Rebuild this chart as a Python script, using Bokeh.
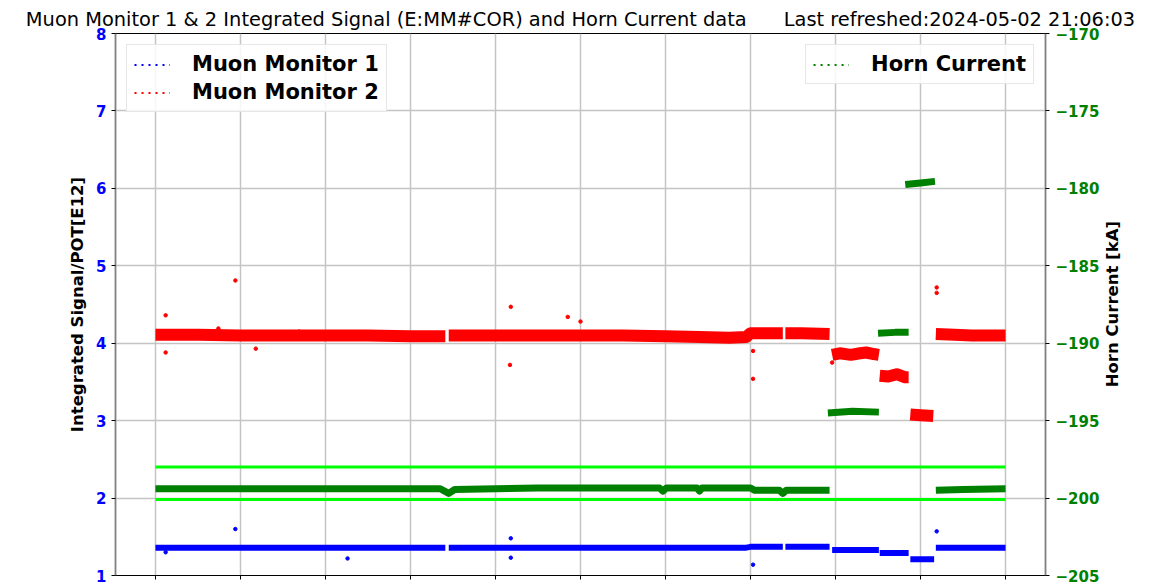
import math
from bokeh.plotting import figure
from bokeh.models import (Range1d, LinearAxis, FixedTicker, CustomJSTickFormatter,
                          Legend, LegendItem)
from bokeh.embed import file_html
from bokeh.resources import INLINE

nan = float("nan")

# x: time in days from start of window (x labels are not visible in the reference)
x_ticks = [0, 1, 2, 3, 4, 5, 6, 7, 8, 9, 10]
left_ticks = [1, 2, 3, 4, 5, 6, 7, 8]
right_ticks = [-205, -200, -195, -190, -185, -180, -175, -170]

# Muon Monitor 1 (Integrated Signal / POT [E12])
mm1_x = [0.0, 0.5, 1.0, 1.5, 2.0, 2.5, 3.0, 3.41, nan,
         3.45, 4.0, 4.5, 5.0, 5.5, 6.0, 6.5, 6.95, 7.0, 7.38, nan,
         7.41, 7.7, 7.93, nan,
         7.96, 8.2, 8.51, nan,
         8.52, 8.7, 8.86, nan,
         8.88, 9.0, 9.16, nan,
         9.18, 9.5, 10.0]
mm1_y = [1.36, 1.36, 1.36, 1.36, 1.36, 1.36, 1.36, 1.36, nan,
         1.36, 1.36, 1.36, 1.36, 1.36, 1.36, 1.36, 1.36, 1.37, 1.37, nan,
         1.37, 1.37, 1.37, nan,
         1.33, 1.33, 1.33, nan,
         1.29, 1.29, 1.29, nan,
         1.21, 1.21, 1.21, nan,
         1.36, 1.36, 1.36]
mm1_out_x = [0.12, 0.94, 2.26, 4.18, 4.18, 7.03, 9.19]
mm1_out_y = [1.30, 1.60, 1.22, 1.48, 1.23, 1.14, 1.57]

# Muon Monitor 2
mm2_x = [0.0, 0.5, 1.0, 1.5, 2.0, 2.5, 3.0, 3.41, nan,
         3.45, 4.0, 4.5, 5.0, 5.5, 6.0, 6.4, 6.75, 6.95, 7.0, 7.2, 7.38, nan,
         7.41, 7.6, 7.93, nan,
         7.96, 8.05, 8.18, 8.29, 8.36, 8.45, 8.51, nan,
         8.52, 8.62, 8.72, 8.82, 8.86, nan,
         8.88, 9.0, 9.15, nan,
         9.18, 9.4, 9.6, 9.8, 10.0]
mm2_y = [4.11, 4.11, 4.10, 4.10, 4.10, 4.10, 4.09, 4.09, nan,
         4.10, 4.10, 4.10, 4.10, 4.10, 4.09, 4.08, 4.07, 4.08, 4.13, 4.13, 4.13, nan,
         4.13, 4.13, 4.12, nan,
         3.85, 3.87, 3.85, 3.87, 3.88, 3.86, 3.85, nan,
         3.58, 3.57, 3.60, 3.56, 3.56, nan,
         3.08, 3.07, 3.06, nan,
         4.12, 4.11, 4.10, 4.10, 4.10]
mm2_out_x = [0.12, 0.12, 0.74, 0.94, 1.18, 1.69, 4.17, 4.18, 4.85, 5.0, 7.03, 7.03, 7.96, 9.19, 9.19]
mm2_out_y = [4.36, 3.88, 4.19, 4.81, 3.93, 4.15, 3.72, 4.47, 4.34, 4.28, 3.90, 3.54, 3.75, 4.72, 4.65]

# Horn current [kA]
horn_x = [0.0, 0.5, 1.0, 1.5, 2.0, 2.5, 3.0, 3.35, 3.45, 3.52, 4.0, 4.5, 5.0, 5.5,
          5.93, 5.97, 6.01, 6.37, 6.4, 6.43, 7.0, 7.05, 7.34, 7.38, 7.42, 7.7, 7.93, nan,
          7.91, 8.2, 8.51, nan,
          8.50, 8.7, 8.86, nan,
          8.82, 9.0, 9.17, nan,
          9.18, 9.5, 10.0]
horn_y = [-199.4, -199.4, -199.4, -199.4, -199.4, -199.4, -199.4, -199.4, -199.7, -199.45,
          -199.4, -199.35, -199.35, -199.35,
          -199.35, -199.55, -199.35, -199.35, -199.55, -199.35, -199.35, -199.5, -199.5,
          -199.7, -199.5, -199.5, -199.5, nan,
          -194.5, -194.4, -194.45, nan,
          -189.35, -189.3, -189.3, nan,
          -179.75, -179.65, -179.55, nan,
          -199.5, -199.45, -199.4]

# horn current limits
limit_x = [0.0, 10.0]
limit_hi = [-198.0, -198.0]
limit_lo = [-200.1, -200.1]

FONT = "DejaVu Sans"
FRAME_W, FRAME_H = 930, 542
RIGHT_TITLE = "Horn Current [kA]"
RIGHT_TITLE_ANCHOR = -192.85   # where the rotated right-axis title starts (bottom end)

p = figure(frame_width=FRAME_W, frame_height=FRAME_H, output_backend="svg", toolbar_location=None,
           x_range=Range1d(-0.47, 10.47), y_range=Range1d(1, 8),
           min_border_left=115, min_border_right=118, min_border_top=33, min_border_bottom=10)
p.extra_y_ranges = {"hc": Range1d(-205, -170)}

p.title.text = ("Muon Monitor 1 & 2 Integrated Signal (E:MM#COR) and Horn Current data"
                "\u00a0\u00a0\u00a0\u00a0\u00a0\u00a0Last refreshed:2024-05-02 21:06:03")
p.title.align = "center"
p.title.text_font = FONT
p.title.text_font_style = "normal"
p.title.text_font_size = "19.4px"
p.title.text_color = "#000000"
p.title.standoff = 5

p.outline_line_color = "#000000"
p.outline_line_width = 1.2
p.background_fill_color = "white"
p.border_fill_color = "white"

# x axis (labels not visible)
xa = p.xaxis[0]
xa.ticker = FixedTicker(ticks=x_ticks)
xa.formatter = CustomJSTickFormatter(code="return ''")
xa.major_label_text_font_size = "0px"
xa.major_label_standoff = 0
xa.major_tick_out = 4
xa.major_tick_in = 0
xa.minor_tick_line_color = None
xa.axis_line_color = "#000000"

# left axis
ya = p.yaxis[0]
ya.ticker = FixedTicker(ticks=left_ticks)
ya.major_label_text_color = "#0000ff"
ya.major_label_text_font = FONT
ya.major_label_text_font_style = "bold"
ya.major_label_text_font_size = "15px"
ya.major_label_standoff = 5
ya.major_tick_out = 4
ya.major_tick_in = 0
ya.minor_tick_line_color = None
ya.axis_line_color = "#808080"
ya.axis_line_width = 1.5
ya.axis_label = "Integrated Signal/POT[E12]"
ya.axis_label_text_font = FONT
ya.axis_label_text_font_style = "bold"
ya.axis_label_text_font_size = "16.5px"
ya.axis_label_text_color = "#000000"
ya.axis_label_standoff = 6

# right axis
ra = LinearAxis(y_range_name="hc", ticker=FixedTicker(ticks=right_ticks),
                formatter=CustomJSTickFormatter(code="return tick < 0 ? '\u2212' + Math.abs(tick) : '' + tick"))
ra.major_label_text_color = "#008000"
ra.major_label_text_font = FONT
ra.major_label_text_font_style = "bold"
ra.major_label_text_font_size = "15px"
ra.major_label_standoff = 6
ra.major_tick_out = 4
ra.major_tick_in = 0
ra.minor_tick_line_color = None
ra.axis_line_color = "#808080"
ra.axis_line_width = 1.5
p.add_layout(ra, "right")

# right axis title (reads bottom-to-top), drawn as the single label of an outer bare axis
rt = LinearAxis(y_range_name="hc", ticker=FixedTicker(ticks=[RIGHT_TITLE_ANCHOR]),
                formatter=CustomJSTickFormatter(code="return '%s'" % RIGHT_TITLE))
rt.major_label_orientation = math.pi / 2
rt.major_label_text_font = FONT
rt.major_label_text_font_style = "bold"
rt.major_label_text_font_size = "16.5px"
rt.major_label_text_color = "#000000"
rt.major_label_standoff = 10
rt.major_tick_out = 0
rt.major_tick_in = 0
rt.major_tick_line_color = None
rt.minor_tick_line_color = None
rt.axis_line_color = None
p.add_layout(rt, "right")

p.xgrid.ticker = FixedTicker(ticks=x_ticks)
p.ygrid.ticker = FixedTicker(ticks=left_ticks)
for g in (p.xgrid[0], p.ygrid[0]):
    g.grid_line_color = "#c4c4c4"
    g.grid_line_width = 1.5

# data
p.line(mm1_x, mm1_y, line_color="#0000ff", line_width=6)
p.scatter(mm1_out_x, mm1_out_y, size=3.5, color="#0000ff")
p.line(mm2_x, mm2_y, line_color="#ff0000", line_width=12, line_join="round")
p.scatter(mm2_out_x, mm2_out_y, size=3.5, color="#ff0000")
p.line(horn_x, horn_y, line_color="#008000", line_width=7, line_join="round", y_range_name="hc")
p.line(limit_x, limit_hi, line_color="#00ff00", line_width=3, y_range_name="hc")
p.line(limit_x, limit_lo, line_color="#00ff00", line_width=3, y_range_name="hc")

# legend icons (dotted lines) -- hidden renderers carrying the same series
d1 = p.line(mm1_x, mm1_y, line_color="#0000ff", line_width=2, line_dash="2 5", visible=False)
d2 = p.line(mm2_x, mm2_y, line_color="#ff0000", line_width=2, line_dash="2 5", visible=False)
d3 = p.line(horn_x, horn_y, line_color="#008000", line_width=2, line_dash="2 5",
            y_range_name="hc", visible=False)


def style_legend(leg):
    leg.label_text_font = FONT
    leg.label_text_font_style = "bold"
    leg.label_text_font_size = "21px"
    leg.label_text_color = "#000000"
    leg.glyph_width = 36
    leg.label_standoff = 22
    leg.label_height = 21
    leg.glyph_height = 21
    leg.spacing = 4
    leg.padding = 7
    leg.margin = 11
    leg.border_line_color = "#d0d0d0"
    leg.border_line_width = 1
    leg.background_fill_alpha = 0.85


leg1 = Legend(items=[LegendItem(label="Muon Monitor 1", renderers=[d1]),
                     LegendItem(label="Muon Monitor 2", renderers=[d2])],
              location="top_left")
leg2 = Legend(items=[LegendItem(label="Horn Current", renderers=[d3])],
              location="top_right")
style_legend(leg1)
style_legend(leg2)
p.add_layout(leg1, "center")
p.add_layout(leg2, "center")

open("out.html", "w").write(file_html(p, INLINE))
